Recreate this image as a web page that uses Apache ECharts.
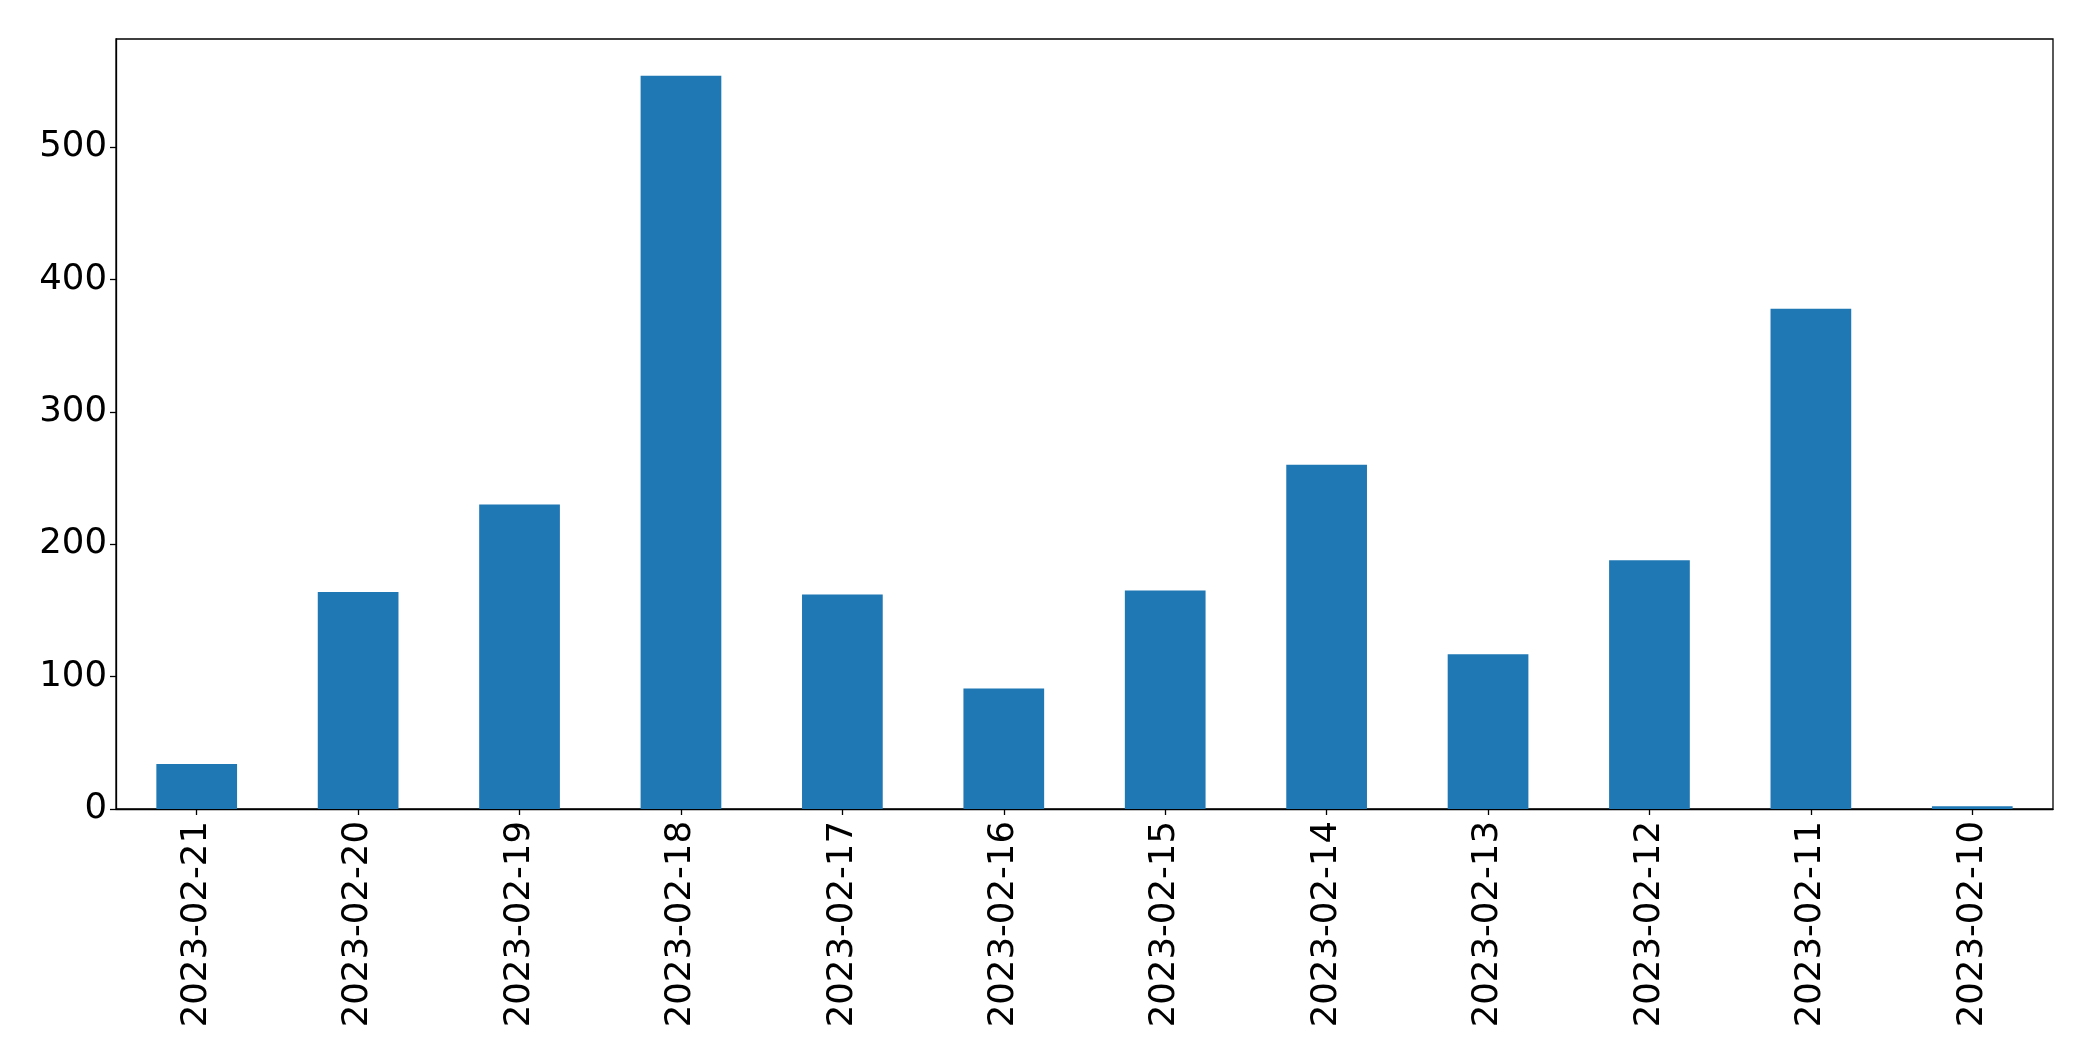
<!DOCTYPE html>
<html>
<head>
<meta charset="utf-8">
<script src="https://cdn.jsdelivr.net/npm/echarts@6/dist/echarts.min.js"></script>
<style>
html,body{margin:0;padding:0;background:#fff;}
#chart{width:2093px;height:1061px;}
</style>
</head>
<body>
<div id="chart"></div>
<script>
const categories = ["2023-02-21","2023-02-20","2023-02-19","2023-02-18","2023-02-17","2023-02-16","2023-02-15","2023-02-14","2023-02-13","2023-02-12","2023-02-11","2023-02-10"];
const values = [34, 164, 230, 554, 162, 91, 165, 260, 117, 188, 378, 2];
const yTicks = [0, 100, 200, 300, 400, 500];

const chart = echarts.init(document.getElementById('chart'), null, {renderer: 'canvas'});
const font = 'DejaVu Sans';
chart.setOption({
  animation: false,
  backgroundColor: '#ffffff',
  grid: {
    left: 116, right: 40, top: 39, bottom: 252,
    show: true, borderColor: '#000', borderWidth: 1.3, backgroundColor: 'transparent'
  },
  xAxis: {
    type: 'category',
    data: categories,
    boundaryGap: true,
    axisLine: {show: true, lineStyle: {color: '#000', width: 1.3}},
    axisTick: {show: true, alignWithLabel: true, length: 6, lineStyle: {color: '#000', width: 1.3}},
    axisLabel: {rotate: 90, margin: 12, color: '#000', fontFamily: font, fontSize: 35.5, interval: 0},
    splitLine: {show: false}
  },
  yAxis: {
    type: 'value',
    min: 0,
    max: function (v) { return v.max * 1.05; },
    interval: 100,
    axisLine: {show: true, lineStyle: {color: '#000', width: 1.3}},
    axisTick: {show: true, length: 6, lineStyle: {color: '#000', width: 1.3}},
    axisLabel: {
      margin: 9, color: '#000', fontFamily: font, fontSize: 35.5,
      showMaxLabel: false,
      formatter: function (v) { return yTicks.indexOf(v) >= 0 ? String(v) : ''; }
    },
    splitLine: {show: false}
  },
  series: [{
    type: 'bar',
    data: values,
    barWidth: '50%',
    itemStyle: {color: '#1f77b4'}
  }]
});
</script>
</body>
</html>
